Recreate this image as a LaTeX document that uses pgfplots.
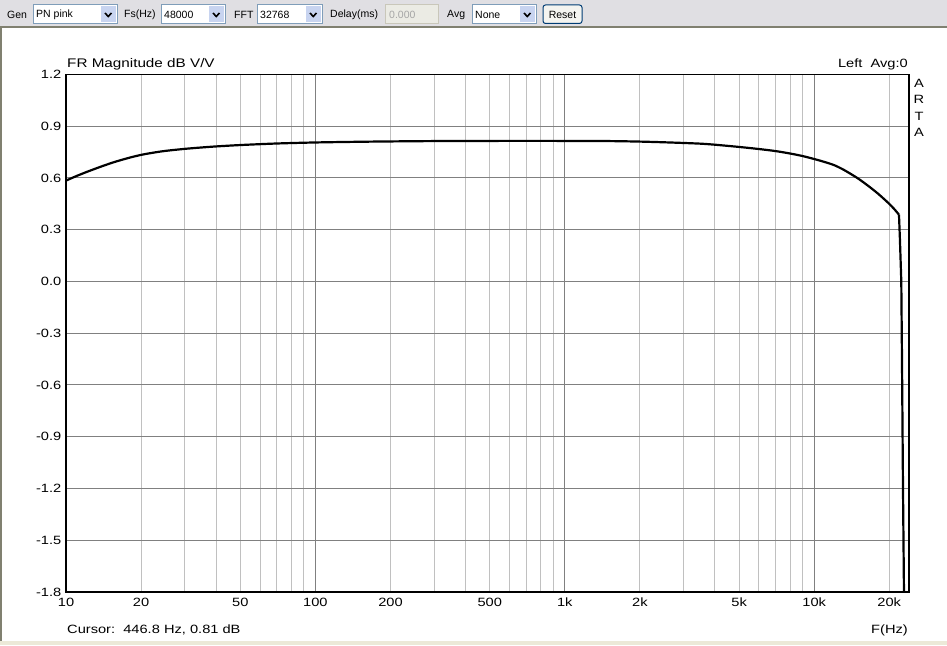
\documentclass[border=0pt]{standalone}
\usepackage{fontspec}
\setmainfont{Liberation Sans}[FakeStretch=1.22]
\newfontfamily\tbfont{Liberation Sans}
\usepackage{pgfplots}
\pgfplotsset{compat=1.18}
\definecolor{tbbg}{RGB}{224,223,227}
\definecolor{tbline}{RGB}{128,128,112}
\definecolor{cbborder}{RGB}{127,157,185}
\definecolor{cbbtn}{RGB}{200,212,240}
\definecolor{majgrid}{RGB}{128,128,128}
\definecolor{mingrid}{RGB}{192,192,192}
\definecolor{winbot}{RGB}{236,233,216}
\definecolor{disbd}{RGB}{201,199,186}
\definecolor{disbg}{RGB}{235,235,228}
\definecolor{btnbd}{RGB}{0,60,116}
\definecolor{btnbg}{RGB}{244,244,240}
\newcommand{\tbf}{\tbfont\fontsize{10.5}{12}\selectfont}
\newcommand{\combo}[3]{%
  \fill[white] (#1,621) rectangle (#2,640);
  \draw[cbborder,line width=1pt] (#1,621) rectangle (#2,640);
  \node[anchor=west,inner sep=0pt,font=\tbf] at (#1+3,630.5) {#3};
  \fill[cbbtn] (#2-16,622.5) rectangle (#2-1.5,638.5);
  \draw[black,line width=1.6pt] (#2-12,632) -- (#2-8.75,628.5) -- (#2-5.5,632);
}
\newcommand{\mainf}{\fontsize{12}{14}\selectfont}
\begin{document}
\begin{tikzpicture}[x=1pt,y=1pt]
\path[use as bounding box] (0,0) rectangle (947,645);
\fill[white] (0,0) rectangle (947,645);
% toolbar
\fill[tbbg] (0,617.5) rectangle (947,645);
\fill[tbline] (0,616.5) rectangle (947,618.5);
\fill[winbot] (0,0) rectangle (947,4);
\fill[tbline] (0,4) rectangle (1.5,616.5);
\node[anchor=west,inner sep=0pt,font=\tbf] at (7,630.5) {Gen};
\combo{33}{117}{PN pink}
\node[anchor=west,inner sep=0pt,font=\tbf] at (124,630.5) {Fs(Hz)};
\combo{161}{225}{48000}
\node[anchor=west,inner sep=0pt,font=\tbf] at (234,630.5) {FFT};
\combo{257}{322}{32768}
\node[anchor=west,inner sep=0pt,font=\tbf] at (330,630.5) {Delay(ms)};
\fill[disbg] (385,621) rectangle (438,640);
\draw[disbd,line width=1pt] (385,621) rectangle (438,640);
\node[anchor=west,inner sep=0pt,font=\tbf,text=gray!70] at (389,630.5) {0.000};
\node[anchor=west,inner sep=0pt,font=\tbf] at (447,630.5) {Avg};
\combo{472}{536}{None}
\draw[btnbd,fill=btnbg,line width=1pt,rounded corners=2.5pt] (543,621.5) rectangle (582,640);
\node[inner sep=0pt,font=\tbf] at (562.5,630.5) {Reset};
% axis
\begin{axis}[
  at={(66pt,53pt)}, anchor=south west,
  scale only axis, width=843pt, height=517.5pt,
  xmode=log, xmin=10, xmax=24000, ymin=-1.8, ymax=1.2,
  xtick={10,100,1000,10000}, xticklabels={10,100,1k,10k},
  extra x ticks={20,50,200,500,2000,5000,20000},
  extra x tick labels={20,50,200,500,2k,5k,20k},
  extra x tick style={grid=none},
  minor xtick={20,30,40,50,60,70,80,90,200,300,400,500,600,700,800,900,2000,3000,4000,5000,6000,7000,8000,9000,20000},
  ytick={-1.8,-1.5,-1.2,-0.9,-0.6,-0.3,0,0.3,0.6,0.9,1.2},
  yticklabels={-1.8,-1.5,-1.2,-0.9,-0.6,-0.3,0.0,0.3,0.6,0.9,1.2},
  xmajorgrids, xminorgrids, ymajorgrids,
  major grid style={majgrid, line width=1pt},
  minor grid style={mingrid, line width=1pt},
  major tick length=0pt, minor tick length=0pt,
  axis line style={black, line width=1.5pt},
  xticklabel style={font=\mainf, anchor=north, inner sep=0pt, yshift=-5.5pt},
  yticklabel style={font=\mainf, anchor=east, inner sep=0pt, xshift=-4.5pt},
  clip=true,
]
\addplot[black, line width=2.2pt, line join=round, smooth] coordinates {
(10,0.585) (11,0.611) (12,0.633) (13,0.652) (14,0.669) (15,0.684) (16,0.697)
(18,0.718) (20,0.734) (22,0.745) (25,0.757) (30,0.769) (35,0.777) (40,0.783)
(50,0.791) (70,0.800) (100,0.806) (150,0.810) (200,0.812) (300,0.814)
(500,0.815) (1000,0.815) (1500,0.814) (2000,0.811) (2500,0.807) (3000,0.803)
(3500,0.799) (4000,0.793) (5000,0.780) (6000,0.768) (7000,0.756) (8000,0.742)
(9000,0.727) (10000,0.710) (11000,0.693) (12000,0.675) (13000,0.651)
(14000,0.624) (15000,0.597) (16000,0.568) (17000,0.539) (18000,0.510)
(19000,0.480) (20000,0.450) (21000,0.418) (21880,0.387)
};
\addplot[black, line width=2.2pt, line join=round] coordinates {
(21880,0.387) (22080,0.235) (22350,0.000) (22490,-0.440) (22700,-1.190)
(22910,-1.800) (23000,-1.950)
};
\end{axis}
% labels
\node[anchor=base west,inner sep=0pt,font=\fontsize{12.5}{14}\selectfont] at (67,577.4) {FR Magnitude dB V/V};
\node[anchor=base east,inner sep=0pt,font=\mainf] at (908,577.4) {Left\ \ Avg:0};
\node[inner sep=0pt,font=\mainf] at (919,562) {A};
\node[inner sep=0pt,font=\mainf] at (919,545.5) {R};
\node[inner sep=0pt,font=\mainf] at (919,529) {T};
\node[inner sep=0pt,font=\mainf] at (919,512.5) {A};
\node[anchor=base west,inner sep=0pt,font=\mainf] at (67,11.7) {Cursor:\ \ 446.8 Hz, 0.81 dB};
\node[anchor=base east,inner sep=0pt,font=\mainf] at (908,11.7) {F(Hz)};
\end{tikzpicture}
\end{document}
